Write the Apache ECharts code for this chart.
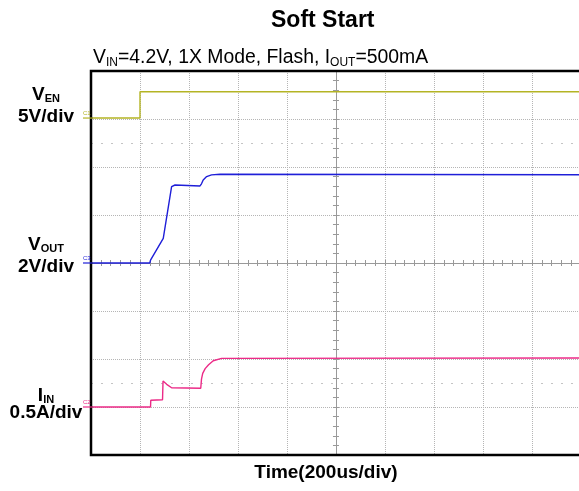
<!DOCTYPE html>
<html>
<head>
<meta charset="utf-8">
<script src="https://cdn.jsdelivr.net/npm/echarts@6/dist/echarts.min.js"></script>
<style>
html, body { margin: 0; padding: 0; background: #fff; }
#chart { width: 579px; height: 491px; }
</style>
</head>
<body>
<div id="chart"></div>
<script>
// time in us from left edge of the screen (200us/div, 10 div)
var enTime = [0, 200, 200, 2000];
var enVolt = [0, 0, 2.74, 2.74];

var outTime = [0, 240, 243, 295, 329, 343, 445, 451, 458, 472, 492, 527, 2000];
var outVolt = [0, 0, 0.12, 1.03, 3.18, 3.25, 3.21, 3.30, 3.46, 3.60, 3.67, 3.70, 3.68];

var inTime = [0, 243, 244, 292, 294, 300, 309, 329, 448, 451, 456, 466, 480, 499, 533, 2000];
var inAmp = [0, 0, 0.07, 0.075, 0.27, 0.26, 0.236, 0.20, 0.195, 0.29, 0.35, 0.40, 0.44, 0.482, 0.507, 0.51];

// volts (or amps) per division and ground marker position in divisions from screen centre
var enScale = 5, enOffset = 3.02;
var outScale = 2, outOffset = 0;
var inScale = 0.5, inOffset = -3.0;

// the scope screen is cut off a hair before its 10th division on the right
var xMax = 4.96;

var FONT = 'Liberation Sans, Arial, sans-serif';

function toScreen(t, v, scale, offset) {
    var out = [];
    for (var i = 0; i < t.length; i++) {
        out.push([t[i] / 200 - 5, v[i] / scale + offset]);
    }
    return out;
}

function traceSeries(name, data, color) {
    return {
        name: name,
        type: 'line',
        data: data,
        showSymbol: false,
        animation: false,
        lineStyle: { color: color, width: 1.4 },
        z: 5
    };
}

var chart = echarts.init(document.getElementById('chart'));

// both axes of a pair sit on the centre line, ticks point inward so they cross it
var centreAxis = {
    type: 'value',
    min: -5,
    max: xMax,
    interval: 1,
    axisLabel: { show: false },
    axisLine: { onZero: true, lineStyle: { color: '#999', width: 1 } },
    axisTick: { show: true, inside: true, length: 3, lineStyle: { color: '#999' } },
    minorTick: { show: true, splitNumber: 5, length: 3, lineStyle: { color: '#999' } }
};

var gridLine = { show: true, showMinLine: false, showMaxLine: false, lineStyle: { color: '#b5b5b5', type: 'dotted', width: 1 } };

var options = {
    backgroundColor: '#fff',
    title: [
        {
            text: 'Soft Start',
            left: 266,
            top: 4,
            textStyle: { fontFamily: FONT, fontWeight: 'bold', fontSize: 23, color: '#000' }
        },
        {
            text: '{n|V}{s|IN}{n|=4.2V, 1X Mode, Flash, I}{s|OUT}{n|=500mA}',
            left: 88,
            top: 42,
            textStyle: {
                fontFamily: FONT,
                fontWeight: 'normal',
                rich: {
                    n: { fontFamily: FONT, fontWeight: 'normal', fontSize: 19.4, lineHeight: 22, color: '#000' },
                    s: { fontFamily: FONT, fontWeight: 'normal', fontSize: 12, lineHeight: 14, verticalAlign: 'bottom', color: '#000' }
                }
            }
        }
    ],
    grid: {
        left: 91,
        top: 71,
        right: 0,
        bottom: 36,
        outerBoundsMode: 'none',
        containLabel: false,
        show: true,
        backgroundColor: '#fff',
        borderWidth: 0
    },
    xAxis: [
        Object.assign({}, centreAxis, { position: 'bottom', splitLine: gridLine }),
        Object.assign({}, centreAxis, { position: 'top', splitLine: { show: false } })
    ],
    yAxis: [
        Object.assign({}, centreAxis, { min: -4, max: 4, position: 'left', splitLine: gridLine }),
        Object.assign({}, centreAxis, { min: -4, max: 4, position: 'right', splitLine: { show: false } })
    ],
    series: [
        Object.assign(traceSeries('VEN', toScreen(enTime, enVolt, enScale, enOffset), '#b4b424'), {
            markLine: {
                silent: true,
                symbol: 'none',
                label: { show: false },
                animation: false,
                lineStyle: { color: '#c4c4c4', type: [2, 8], width: 1 },
                data: [{ yAxis: 2.5 }, { yAxis: -2.5 }]
            }
        }),
        traceSeries('VOUT', toScreen(outTime, outVolt, outScale, outOffset), '#1f1fd8'),
        traceSeries('IIN', toScreen(inTime, inAmp, inScale, inOffset), '#ec2a87')
    ]
};

chart.setOption(options);

// frame (open on the right), side labels, channel ground markers and the time label
var labelRich = {
    b: { fontFamily: FONT, fontWeight: 'bold', fontSize: 19, fill: '#000' },
    s: { fontFamily: FONT, fontWeight: 'bold', fontSize: 11, fill: '#000', verticalAlign: 'bottom', padding: [6, 0, 0, 0] }
};

function sideLabel(rich, x, y) {
    return {
        type: 'text',
        style: {
            text: rich, x: x, y: y, align: 'center', verticalAlign: 'middle',
            rich: labelRich, font: 'bold 19px ' + FONT, fill: '#000'
        }
    };
}

var tl = chart.convertToPixel({ gridIndex: 0 }, [-5, 4]);
var br = chart.convertToPixel({ gridIndex: 0 }, [xMax, -4]);

var graphics = [
    {
        type: 'polyline',
        shape: { points: [[br[0] + 5, tl[1]], [tl[0], tl[1]], [tl[0], br[1]], [br[0] + 5, br[1]]] },
        style: { stroke: '#000', lineWidth: 2.5, fill: null },
        z: 20
    },
    sideLabel('{b|V}{s|EN}', 46, 95),
    sideLabel('{b|5V/div}', 46, 117),
    sideLabel('{b|V}{s|OUT}', 46, 245),
    sideLabel('{b|2V/div}', 46, 267),
    sideLabel('{b|I}{s|IN}', 46, 396),
    sideLabel('{b|0.5A/div}', 46, 413),
    {
        type: 'text',
        style: {
            text: 'Time(200us/div)', x: 326, y: 473, align: 'center', verticalAlign: 'middle',
            font: 'bold 19px ' + FONT, fill: '#000'
        }
    }
];

var markers = [
    { name: 'C1', offset: enOffset, color: '#b4b424' },
    { name: 'C3', offset: outOffset, color: '#1f1fd8' },
    { name: 'C2', offset: inOffset, color: '#ec2a87' }
];

markers.forEach(function (m) {
    var p = chart.convertToPixel({ gridIndex: 0 }, [-5, m.offset]);
    graphics.push({
        type: 'line',
        shape: { x1: p[0] - 8, y1: p[1], x2: p[0] + 1, y2: p[1] },
        style: { stroke: m.color, lineWidth: 1.2 },
        z: 21
    });
    graphics.push({
        type: 'text',
        style: {
            text: m.name, x: p[0] - 8, y: p[1] - 2, align: 'left', verticalAlign: 'bottom',
            font: '6px ' + FONT, fill: m.color
        },
        z: 21
    });
});

chart.setOption({ graphic: graphics });
</script>
</body>
</html>
